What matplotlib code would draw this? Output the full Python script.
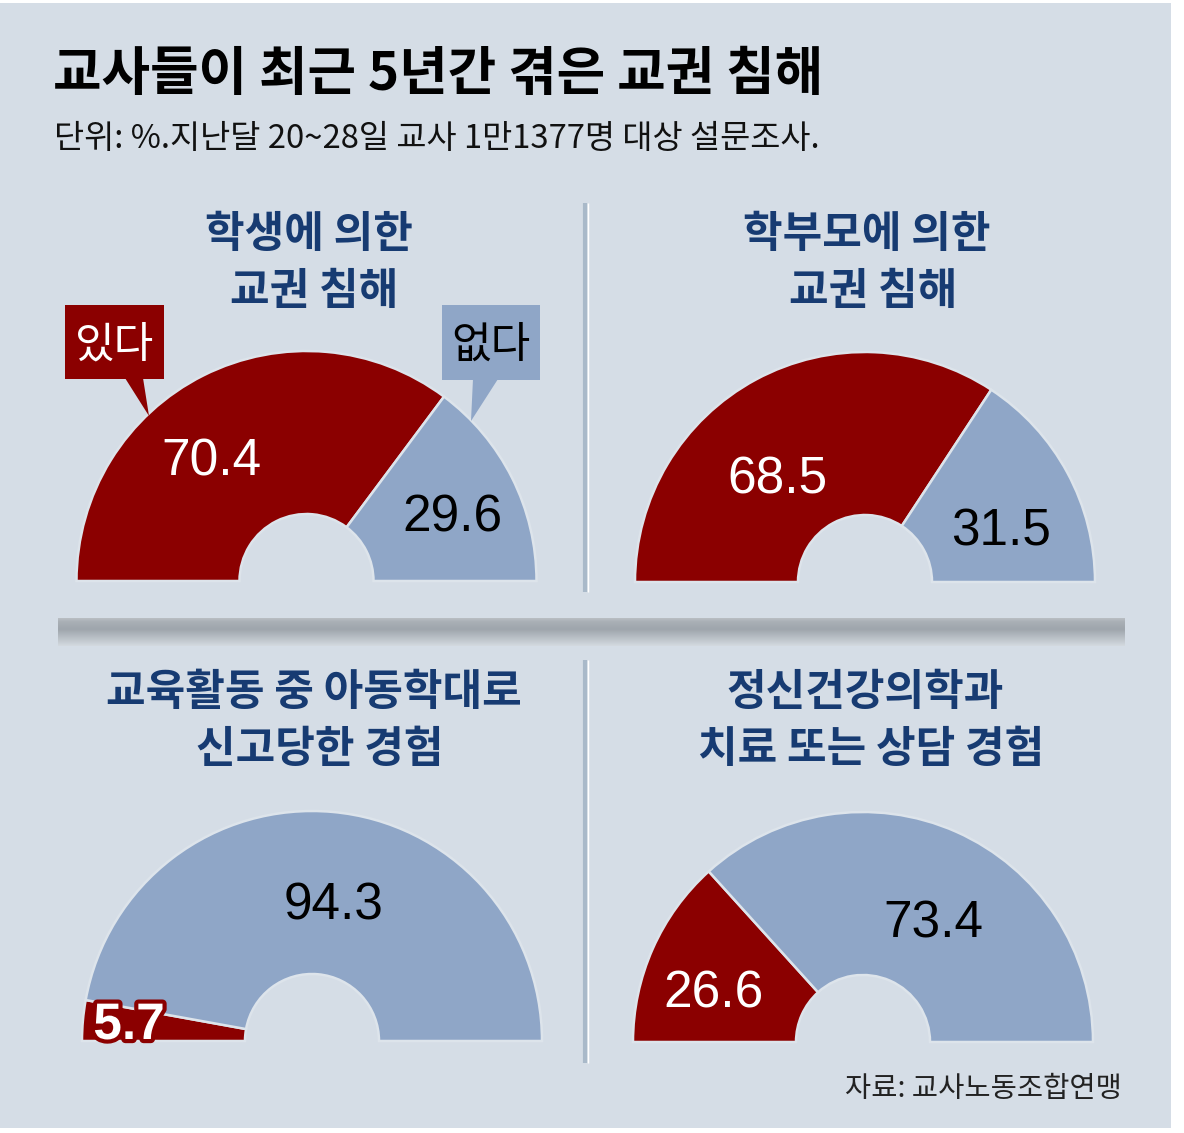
import matplotlib
matplotlib.use("Agg")
import matplotlib.pyplot as plt
import numpy as np
from matplotlib import font_manager, patches, patheffects
from matplotlib.colors import LinearSegmentedColormap

W, H = 1184, 1133

# --- data ---
title = "교사들이 최근 5년간 겪은 교권 침해"
subtitle = "단위: %.지난달 20~28일 교사 1만1377명 대상 설문조사."
source = "자료: 교사노동조합연맹"
panel_titles = [
    ("학생에 의한", "교권 침해"),
    ("학부모에 의한", "교권 침해"),
    ("교육활동 중 아동학대로", "신고당한 경험"),
    ("정신건강의학과", "치료 또는 상담 경험"),
]
yes_vals = [70.4, 68.5, 5.7, 26.6]
no_vals = [29.6, 31.5, 94.3, 73.4]
legend_labels = ["있다", "없다"]

# --- style ---
BG = "#d5dde6"
RED = "#8b0000"
BLUE = "#8fa6c7"
NAVY = "#173b72"
KR = ["Noto Sans CJK KR", "DejaVu Sans"]
names = {f.name for f in font_manager.fontManager.ttflist}
NUM = "Liberation Sans Narrow" if "Liberation Sans Narrow" in names else "Liberation Sans"

# pixel layout: chart centre, label anchors (dx, baseline dy) relative to centre
centers = [(306.5, 581), (865, 582), (312, 1041), (863, 1042)]
R_OUT, R_IN = 230, 67
yes_pos = [(-95, -106), (-88, -88), (-183, -2), (-149, -34)]
no_pos = [(146, -49), (136, -37), (22, -121), (70, -105)]
yes_color = ["white", "white", "white", "white"]
no_color = ["black", "black", "black", "black"]


def py(y):
    return H - y


fig = plt.figure(figsize=(W / 100, H / 100), dpi=100, facecolor="white")
ax = fig.add_axes([0, 0, 1, 1])

ax.add_patch(patches.Rectangle((0, py(1128)), 1171, 1125, facecolor=BG,
                               edgecolor="none", zorder=0))

for i, (cx, cy) in enumerate(centers):
    wedges, _ = ax.pie([yes_vals[i], no_vals[i], yes_vals[i] + no_vals[i]],
                       startangle=180, counterclock=False, radius=R_OUT,
                       center=(cx, py(cy)), colors=[RED, BLUE, "none"],
                       wedgeprops=dict(width=R_OUT - R_IN, edgecolor="#dde4eb",
                                       linewidth=1.8))
    wedges[2].set_visible(False)
    for w in wedges:
        w.set_zorder(2)

    dx, dy = yes_pos[i]
    t = ax.text(cx + dx, py(cy + dy), f"{yes_vals[i]:.1f}", family=NUM,
                fontsize=37, color=yes_color[i], ha="center", va="baseline", zorder=5)
    if yes_vals[i] < 10:
        t.set_path_effects([patheffects.withStroke(linewidth=6, foreground=RED)])
        t.set_fontweight("bold")
    dx, dy = no_pos[i]
    ax.text(cx + dx, py(cy + dy), f"{no_vals[i]:.1f}", family=NUM,
            fontsize=37, color=no_color[i], ha="center", va="baseline", zorder=5)

    # panel titles
    top = 247 if i < 2 else 705
    ax.text(cx + 2, py(top), panel_titles[i][0], family=KR, fontsize=31,
            fontweight="bold", color=NAVY, ha="center", va="baseline")
    ax.text(cx + 8, py(top + 57), panel_titles[i][1], family=KR, fontsize=31,
            fontweight="bold", color=NAVY, ha="center", va="baseline")

# call-out boxes on first chart
ax.add_patch(patches.Rectangle((65, py(379)), 99, 74, facecolor=RED,
                               edgecolor="none", zorder=3))
ax.add_patch(patches.Polygon([(125, py(378)), (143, py(378)), (149, py(416))],
                             closed=True, facecolor=RED, edgecolor="none", zorder=3))
ax.text(115, py(358), legend_labels[0], family=KR, fontsize=31, color="white",
        ha="center", va="baseline", zorder=4)
ax.add_patch(patches.Rectangle((442, py(380)), 98, 75, facecolor=BLUE,
                               edgecolor="none", zorder=3))
ax.add_patch(patches.Polygon([(473, py(379)), (498, py(379)), (471, py(421))],
                             closed=True, facecolor=BLUE, edgecolor="none", zorder=3))
ax.text(491, py(358), legend_labels[1], family=KR, fontsize=31, color="black",
        ha="center", va="baseline", zorder=4)

# header
ax.text(53, py(90), title, family=KR, fontsize=38, fontweight="bold",
        color="black", ha="left", va="baseline")
ax.text(54, py(148), subtitle, family=KR, fontsize=23.6, color="#111111",
        ha="left", va="baseline")

# dividers
for y0, y1 in [(203, 592), (660, 1063)]:
    ax.plot([585, 585], [py(y0), py(y1)], color="#a9b9c9", lw=3,
            solid_capstyle="butt", zorder=1)
    ax.plot([587.5, 587.5], [py(y0), py(y1)], color="white", lw=1,
            solid_capstyle="butt", zorder=1)

grad = LinearSegmentedColormap.from_list(
    "bar", [(0, "#b9bec3"), (0.12, "#aab0b6"), (0.4, "#9ea5ac"), (1, "#d3d9df")])
ax.imshow(np.linspace(0, 1, 60).reshape(-1, 1), cmap=grad, aspect="auto",
          extent=[58, 1125, py(646), py(618)], zorder=1, interpolation="bilinear")

ax.text(1122, py(1097), source, family=KR, fontsize=20.5, color="#222222",
        ha="right", va="baseline")

ax.set_xlim(0, W)
ax.set_ylim(0, H)
ax.set_aspect("auto")
ax.axis("off")

fig.savefig("out.png", dpi=100, facecolor="white")
plt.close(fig)
